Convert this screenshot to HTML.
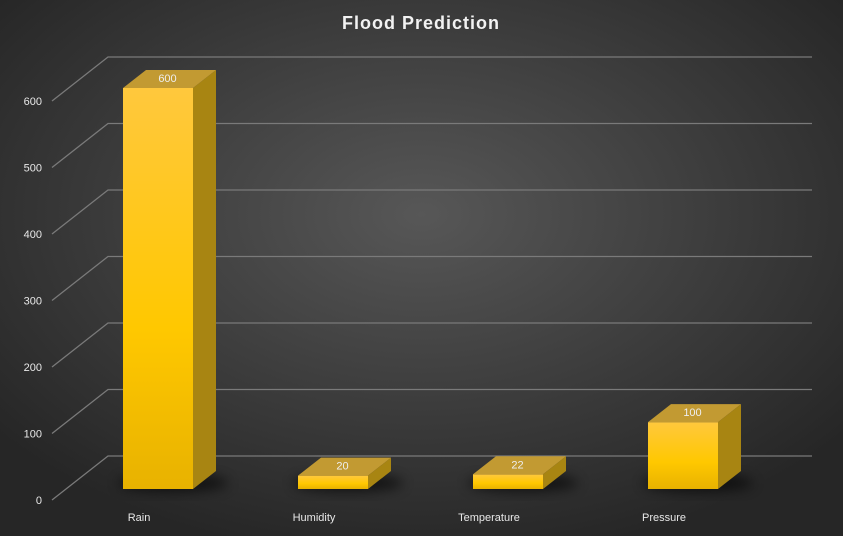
<!DOCTYPE html>
<html><head><meta charset="utf-8"><style>
body{margin:0;background:#2e2e2e}
svg{display:block;font-family:"Liberation Sans",sans-serif}
</style></head><body>
<svg id="c" width="843" height="536" viewBox="0 0 843 536">
<defs>
<radialGradient id="bg" cx="50%" cy="40%" r="65%"><stop offset="0" stop-color="#575757"/><stop offset="1" stop-color="#262626"/></radialGradient>
<linearGradient id="front" x1="0" y1="0" x2="0" y2="1"><stop offset="0" stop-color="#ffc83d"/><stop offset="0.6" stop-color="#ffc800"/><stop offset="1" stop-color="#e8b200"/></linearGradient>
<filter id="sh" x="-50%" y="-50%" width="200%" height="200%"><feGaussianBlur stdDeviation="6"/></filter>
</defs>
<rect width="843" height="536" fill="url(#bg)"/>
<text x="421" y="29" text-anchor="middle" fill="#f2f2f2" font-size="18" font-weight="bold" letter-spacing="1">Flood Prediction</text>
<g id="grid"></g><g id="bars"></g>
</svg>
<script>
const categories=["Rain","Humidity","Temperature","Pressure"];
const values=[600,20,22,100];
const ticks=[0,100,200,300,400,500,600];
const NS="http://www.w3.org/2000/svg";
const y0=489,scale=401/600,DX=23,DY=-18;
function yF(v){return y0-v*scale;}
function el(t,a,p){const e=document.createElementNS(NS,t);for(const k in a)e.setAttribute(k,a[k]);p.appendChild(e);return e;}
const grid=document.getElementById('grid'),bars=document.getElementById('bars');
ticks.forEach(t=>{
  const ly=500-t*(399/600), by=ly-44;
  const g=el('polyline',{points:`52,${ly} 108,${by} 812,${by}`,fill:'none',stroke:'#7a7a7a','stroke-width':1.3},grid);
  
  
  const tx=el('text',{x:42,y:ly+4,'text-anchor':'end',fill:'#e8e8e8','font-size':11},grid);
  tx.textContent=t;
  
  
});
categories.forEach((c,i)=>{
  const x=123+i*175,w=70,top=yF(values[i]);
  const g=el('g',{},bars);
  
  
  el('ellipse',{cx:x+w/2+15,cy:y0-6,rx:55,ry:9,fill:'#000',opacity:0.6,filter:'url(#sh)'},g);
  el('rect',{x:x,y:top,width:w,height:y0-top,fill:'url(#front)'},g);
  el('polygon',{points:`${x+w},${top} ${x+w+DX},${top+DY} ${x+w+DX},${y0+DY} ${x+w},${y0}`,fill:'#a88512'},g);
  el('polygon',{points:`${x},${top} ${x+DX},${top+DY} ${x+w+DX},${top+DY} ${x+w},${top}`,fill:'#c29a32'},g);
  const v=el('text',{x:x+w/2+DX/2-2,y:top-6,'text-anchor':'middle',fill:'#eeeeee','font-size':11},g);
  v.textContent=values[i];
  
  
  const l=el('text',{x:x+w/2-19,y:521,'text-anchor':'middle',fill:'#e8e8e8','font-size':11},g);
  l.textContent=c;
  
  
});
</script>
</body></html>
